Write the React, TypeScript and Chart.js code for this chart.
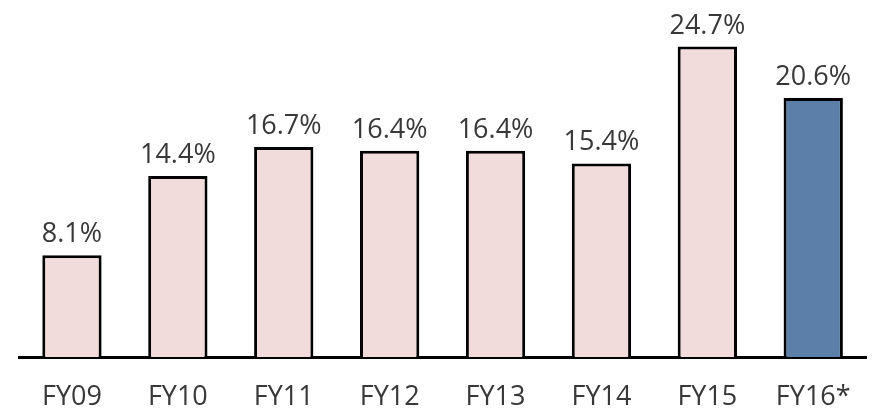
import React, { useEffect, useRef } from "react";
import { Chart, registerables } from "chart.js";

Chart.register(...registerables);

const categories = ["FY09", "FY10", "FY11", "FY12", "FY13", "FY14", "FY15", "FY16*"];
const values = [8.1, 14.4, 16.7, 16.4, 16.4, 15.4, 24.7, 20.6];
const valueLabels = ["8.1%", "14.4%", "16.7%", "16.4%", "16.4%", "15.4%", "24.7%", "20.6%"];
const barColors = ["#F2DCDB", "#F2DCDB", "#F2DCDB", "#F2DCDB", "#F2DCDB", "#F2DCDB", "#F2DCDB", "#5B7FA8"];

const FONT = "'Open Sans', sans-serif";
const TEXT = "#383838";

const labelPlugin = {
  id: "valueLabels",
  afterDatasetsDraw(chart: any) {
    const ctx = chart.ctx;
    const meta = chart.getDatasetMeta(0);
    ctx.save();
    ctx.font = `27px ${FONT}`;
    ctx.fillStyle = TEXT;
    ctx.textAlign = "center";
    ctx.textBaseline = "alphabetic";
    meta.data.forEach((bar: any, i: number) => {
      ctx.fillText(valueLabels[i], bar.x, bar.y - 13);
    });
    ctx.restore();
  },
};

export default function App() {
  const ref = useRef<HTMLCanvasElement>(null);
  useEffect(() => {
    if (!ref.current) return;
    const chart = new Chart(ref.current, {
      type: "bar",
      data: {
        labels: categories,
        datasets: [
          {
            data: values,
            backgroundColor: barColors,
            borderColor: "#000000",
            borderWidth: 3,
            borderSkipped: "bottom",
            categoryPercentage: 1,
            barPercentage: 0.56,
          },
        ],
      },
      options: {
        responsive: false,
        animation: false,
        maintainAspectRatio: false,
        layout: { padding: { left: 19, right: 6, top: 0, bottom: 0 } },
        plugins: { legend: { display: false }, tooltip: { enabled: false } },
        scales: {
          y: { display: false, min: 0, max: 28.4 },
          x: {
            grid: { display: false, drawTicks: false },
            border: { display: true, color: "#000000", width: 3 },
            ticks: {
              color: TEXT,
              font: { family: FONT, size: 27 },
              padding: 24,
              maxRotation: 0,
            },
            afterFit(scale: any) {
              scale.height = 54;
            },
          },
        },
      },
      plugins: [labelPlugin],
    });
    return () => chart.destroy();
  }, []);
  return (
    <div style={{ position: "fixed", left: 0, top: 0, width: 875, height: 411, background: "#fff" }}>
      <canvas ref={ref} width={875} height={411} style={{ width: 875, height: 411, display: "block" }} />
    </div>
  );
}
